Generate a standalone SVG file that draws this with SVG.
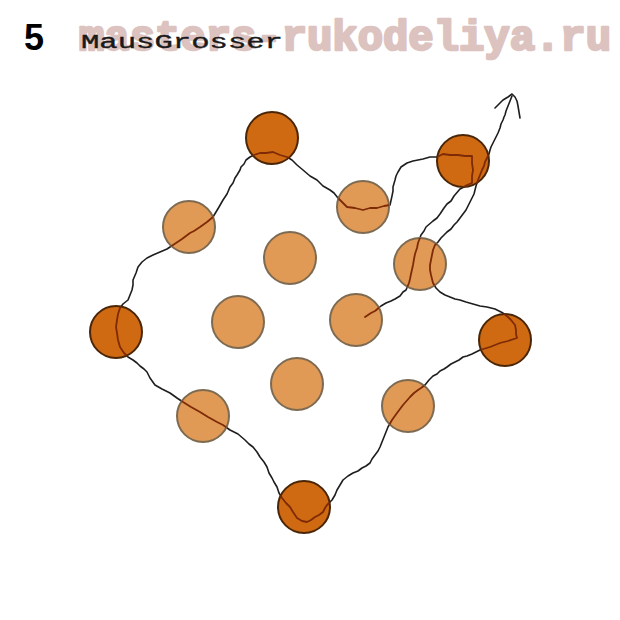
<svg xmlns="http://www.w3.org/2000/svg" width="620" height="620" viewBox="0 0 620 620">
<style>
.dark{fill:#cf6a12;stroke:#4a2608;stroke-width:2}
.light{fill:#e09a55;stroke:#7d6a52;stroke-width:2}
.thread{fill:none;stroke:#1e1e1e;stroke-width:1.6;stroke-linejoin:round;stroke-linecap:round}
.inner{fill:none;stroke:#7e2a06;stroke-width:1.8;stroke-linejoin:round;stroke-linecap:round}
</style>
<defs>
<path id="t" d="M365,317 L371,313 L375,311 L381,306 L386,303 L391,301 L395,299 L400,296 L403,292 L406,290 L409,283 L410,279 L411,274 L413,265 L414,259 L415,254 L417,248 L418,243 L421,235 L424,231 L426,227 L433,221 L437,218 L440,214 L444,208 L447,204 L451,201 L454,196 L460,189 L464,187 L467,185 L472,183 L472,176 L473,170 L472,163 L472,156 L465,156 L458,155 L450,155 L443,154 L437,157 L430,157 L423,159 L418,160 L413,161 L407,163 L401,167 L398,172 L396,176 L395,180 L393,187 L393,191 L392,196 L390,205 L384,206 L377,208 L370,208 L363,210 L355,208 L347,207 L342,202 L338,198 L334,193 L330,190 L323,186 L317,180 L310,176 L303,170 L297,165 L292,160 L287,157 L280,155 L273,152 L266,153 L260,153 L254,155 L250,157 L246,160 L244,164 L241,167 L240,170 L237,175 L235,178 L233,183 L230,187 L227,194 L223,200 L219,207 L213,217 L207,222 L200,227 L194,231 L190,233 L182,239 L173,245 L167,249 L160,252 L153,255 L147,258 L142,262 L138,267 L136,273 L133,280 L133,285 L132,290 L130,295 L128,300 L123,304 L120,308 L118,314 L117,320 L116,327 L117,333 L118,340 L120,347 L124,353 L128,357 L133,360 L137,363 L140,366 L144,369 L147,372 L150,378 L155,385 L162,389 L170,393 L177,398 L183,402 L191,407 L200,412 L208,417 L217,422 L223,425 L230,430 L238,434 L245,440 L249,444 L253,447 L257,452 L260,457 L264,462 L267,467 L269,473 L272,478 L274,482 L277,487 L279,493 L282,498 L286,503 L290,507 L293,512 L297,518 L302,521 L307,522 L311,520 L315,517 L319,515 L323,512 L325,508 L327,505 L330,502 L332,500 L335,495 L337,490 L340,485 L343,480 L348,476 L353,473 L358,471 L362,468 L366,466 L370,463 L372,459 L375,455 L378,451 L380,447 L382,442 L384,437 L386,432 L388,427 L392,420 L397,413 L403,405 L410,397 L414,393 L418,390 L421,388 L425,385 L429,380 L433,376 L437,374 L440,371 L444,369 L447,367 L451,364 L455,362 L459,360 L463,357 L467,356 L472,354 L476,352 L480,350 L490,347 L500,343 L508,341 L517,338 L516,334 L516,330 L515,325 L511,320 L508,317 L503,313 L499,311 L495,309 L491,308 L487,307 L480,306 L473,304 L466,302 L460,300 L455,299 L450,297 L445,295 L440,292 L436,288 L433,283 L432,279 L431,275 L430,270 L430,265 L431,260 L432,255 L433,250 L435,245 L438,242 L441,238 L444,235 L447,232 L451,229 L454,225 L457,222 L460,218 L463,214 L466,210 L468,206 L470,202 L472,198 L474,194 L475,190 L476,186 L478,180 L480,175 L482,170 L484,166 L485,162 L487,158 L489,154 L490,150 L491,147 L492,145 L494,141 L496,137 L498,133 L500,128 L501,124 L503,120 L504,117 L505,115 L506,111 L508,106 L510,101 L512,96"/>
<clipPath id="beads">
<circle cx="272" cy="138" r="26"/>
<circle cx="463" cy="161" r="26"/>
<circle cx="116" cy="332" r="26"/>
<circle cx="505" cy="340" r="26"/>
<circle cx="304" cy="507" r="26"/>
<circle cx="189" cy="227" r="26"/>
<circle cx="363" cy="207" r="26"/>
<circle cx="290" cy="258" r="26"/>
<circle cx="420" cy="264" r="26"/>
<circle cx="238" cy="322" r="26"/>
<circle cx="356" cy="320" r="26"/>
<circle cx="297" cy="384" r="26"/>
<circle cx="203" cy="416" r="26"/>
<circle cx="408" cy="406" r="26"/>
</clipPath>
</defs>
<rect width="620" height="620" fill="#ffffff"/>
<g id="header">
<text x="79" y="50" font-family="Liberation Mono, monospace" font-weight="bold" font-size="42" fill="#dcc3bf" stroke="#dcc3bf" stroke-width="2.5" stroke-linejoin="round" textLength="532" lengthAdjust="spacingAndGlyphs">masters-rukodeliya.ru</text>
<text x="24" y="50" font-family="Liberation Sans, Arial, sans-serif" font-weight="bold" font-size="36" fill="#000000">5</text>
<text x="81" y="48" font-family="Liberation Mono, Courier New, monospace" font-size="20" fill="#1a1a1a" stroke="#1a1a1a" stroke-width="0.4" textLength="202" lengthAdjust="spacingAndGlyphs">MausGrosser</text>
</g>
<g id="connectors">
<use href="#t" class="thread"/>
<path class="thread" d="M495,108 L499,104 L503,100 L508,97 L512,94 L515,97 L517,101 L518,106 L519,112 L520,118"/>
</g>
<g id="beads-group">
<g id="d1"><circle class="dark" cx="272" cy="138" r="26"/></g>
<g id="d2"><circle class="dark" cx="463" cy="161" r="26"/></g>
<g id="d3"><circle class="dark" cx="116" cy="332" r="26"/></g>
<g id="d4"><circle class="dark" cx="505" cy="340" r="26"/></g>
<g id="d5"><circle class="dark" cx="304" cy="507" r="26"/></g>
<g id="l1"><circle class="light" cx="189" cy="227" r="26"/></g>
<g id="l2"><circle class="light" cx="363" cy="207" r="26"/></g>
<g id="l3"><circle class="light" cx="290" cy="258" r="26"/></g>
<g id="l4"><circle class="light" cx="420" cy="264" r="26"/></g>
<g id="l5"><circle class="light" cx="238" cy="322" r="26"/></g>
<g id="l6"><circle class="light" cx="356" cy="320" r="26"/></g>
<g id="l7"><circle class="light" cx="297" cy="384" r="26"/></g>
<g id="l8"><circle class="light" cx="203" cy="416" r="26"/></g>
<g id="l9"><circle class="light" cx="408" cy="406" r="26"/></g>
</g>
<g id="thread-through-beads" clip-path="url(#beads)">
<use href="#t" class="inner"/>
</g>
</svg>
